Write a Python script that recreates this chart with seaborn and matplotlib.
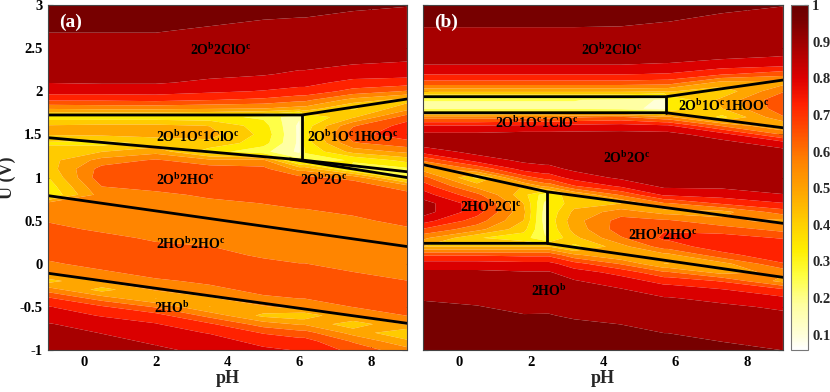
import numpy as np
import matplotlib
matplotlib.use("Agg")
import matplotlib.pyplot as plt
import seaborn as sns
from matplotlib.colors import LinearSegmentedColormap, Normalize
from matplotlib.cm import ScalarMappable
from matplotlib.ticker import FuncFormatter

# ---------------- data ----------------
# potential rows (V), top to bottom
U_rows = [3.0, 2.9, 2.8, 2.7, 2.6, 2.5, 2.4, 2.3, 2.2, 2.1, 2.0, 1.9, 1.8, 1.7,
          1.6, 1.5, 1.4, 1.3, 1.2, 1.1, 1.0, 0.9, 0.8, 0.7, 0.6, 0.5, 0.4, 0.3,
          0.2, 0.1, 0.0, -0.1, -0.2, -0.3, -0.4, -0.5, -0.6, -0.7, -0.8, -0.9, -1.0]

# panel (a): pH columns and values read per column (U from 3 to -1)
pH_a = [-1, 0.5, 2, 3.5, 5, 6, 6.15, 7.5, 9]
val_a = [
    [0.97,0.97,0.96,0.93,0.89,0.88,0.88,0.88,0.87,0.845,0.80,0.70,0.54,0.33,
     0.46,0.46,0.36,0.41,0.42,0.41,0.37,0.33,0.30,0.56,
     0.57,0.60,0.64,0.66,0.66,0.64,0.59,0.55,0.42,0.57,0.70,0.77,0.80,0.85,0.88,0.89,0.90],
    [0.97,0.97,0.96,0.93,0.89,0.88,0.88,0.88,0.87,0.85,0.80,0.70,0.55,0.33,
     0.47,0.47,0.34,0.45,0.56,0.64,0.66,0.61,0.57,0.55,
     0.56,0.57,0.59,0.64,0.66,0.66,0.65,0.59,0.54,0.42,0.57,0.70,0.76,0.80,0.84,0.87,0.88],
    [0.97,0.97,0.96,0.93,0.89,0.88,0.88,0.88,0.87,0.85,0.80,0.71,0.55,0.33,
     0.47,0.48,0.40,0.50,0.62,0.66,0.66,0.65,0.58,0.57,
     0.55,0.56,0.57,0.59,0.63,0.66,0.66,0.65,0.59,0.54,0.45,0.60,0.72,0.77,0.80,0.83,0.86],
    [0.97,0.96,0.94,0.90,0.88,0.88,0.88,0.88,0.86,0.83,0.78,0.69,0.54,0.32,
     0.45,0.48,0.43,0.33,0.55,0.65,0.66,0.66,0.63,0.58,
     0.57,0.55,0.56,0.57,0.61,0.65,0.66,0.66,0.63,0.58,0.52,0.45,0.58,0.70,0.76,0.80,0.82],
    [0.97,0.95,0.91,0.88,0.88,0.88,0.88,0.88,0.85,0.81,0.76,0.67,0.53,0.28,
     0.33,0.35,0.33,0.24,0.55,0.63,0.66,0.66,0.66,0.61,
     0.58,0.56,0.55,0.56,0.57,0.59,0.64,0.66,0.66,0.64,0.59,0.52,0.43,0.57,0.68,0.74,0.78],
    [0.96,0.94,0.90,0.88,0.88,0.88,0.88,0.86,0.83,0.79,0.74,0.63,0.50,0.15,
     0.12,0.12,0.12,0.12,0.25,0.50,0.63,0.66,0.66,0.64,
     0.59,0.57,0.55,0.56,0.56,0.58,0.61,0.65,0.66,0.65,0.61,0.56,0.40,0.52,0.64,0.72,0.76],
    [0.96,0.94,0.90,0.88,0.88,0.88,0.88,0.86,0.83,0.79,0.74,0.63,0.50,0.30,
     0.33,0.35,0.33,0.30,0.27,0.50,0.63,0.66,0.66,0.64,
     0.59,0.57,0.55,0.56,0.56,0.58,0.61,0.65,0.66,0.65,0.61,0.56,0.40,0.52,0.64,0.72,0.76],
    [0.95,0.91,0.88,0.88,0.88,0.88,0.87,0.84,0.80,0.74,0.66,0.50,0.36,0.44,
     0.60,0.66,0.60,0.48,0.30,0.28,0.58,0.66,0.66,0.66,
     0.63,0.58,0.57,0.55,0.56,0.56,0.58,0.61,0.65,0.66,0.65,0.61,0.54,0.40,0.50,0.60,0.66],
    [0.93,0.89,0.88,0.88,0.88,0.88,0.86,0.83,0.79,0.73,0.60,0.42,0.50,0.65,
     0.72,0.73,0.66,0.55,0.40,0.28,0.30,0.56,0.64,0.66,
     0.66,0.65,0.59,0.57,0.55,0.56,0.56,0.58,0.61,0.65,0.66,0.65,0.61,0.54,0.38,0.47,0.56],
]

# panel (b)
pH_b = [-1, 0.5, 1.8, 2.4, 2.5, 3.2, 4.5, 5.7, 5.8, 7.3, 9]
val_b = [
    [0.97,0.97,0.95,0.90,0.88,0.88,0.88,0.84,0.77,0.66,0.47,0.22,0.20,0.57,
     0.77,0.86,0.88,0.80,0.62,0.49,0.64,0.73,0.80,0.88,
     0.88,0.80,0.68,0.55,0.45,0.68,0.80,0.86,0.88,0.88,0.91,0.95,0.97,0.97,0.97,0.97,0.97],
    [0.97,0.97,0.95,0.90,0.88,0.88,0.88,0.84,0.77,0.66,0.47,0.22,0.20,0.57,
     0.77,0.86,0.88,0.87,0.80,0.62,0.35,0.50,0.63,0.72,
     0.72,0.65,0.56,0.38,0.45,0.68,0.80,0.86,0.88,0.88,0.88,0.93,0.97,0.97,0.97,0.97,0.97],
    [0.97,0.97,0.95,0.90,0.88,0.88,0.88,0.84,0.77,0.66,0.47,0.22,0.20,0.58,
     0.78,0.87,0.88,0.88,0.86,0.80,0.65,0.45,0.40,0.45,
     0.47,0.45,0.40,0.33,0.45,0.67,0.79,0.85,0.88,0.88,0.88,0.88,0.93,0.97,0.97,0.97,0.97],
    [0.97,0.97,0.95,0.90,0.88,0.88,0.88,0.84,0.77,0.66,0.47,0.22,0.20,0.58,
     0.78,0.87,0.88,0.88,0.87,0.82,0.72,0.55,0.25,0.20,
     0.18,0.18,0.20,0.22,0.45,0.67,0.79,0.85,0.88,0.88,0.88,0.89,0.93,0.97,0.97,0.97,0.97],
    [0.97,0.97,0.95,0.90,0.88,0.88,0.88,0.84,0.77,0.66,0.47,0.22,0.20,0.58,
     0.78,0.87,0.88,0.88,0.87,0.82,0.72,0.55,0.30,0.30,
     0.32,0.33,0.32,0.30,0.45,0.67,0.79,0.85,0.88,0.88,0.88,0.89,0.93,0.97,0.97,0.97,0.97],
    [0.97,0.97,0.95,0.90,0.88,0.88,0.88,0.84,0.77,0.66,0.47,0.22,0.20,0.60,
     0.79,0.87,0.88,0.88,0.88,0.86,0.80,0.68,0.45,0.42,
     0.47,0.50,0.48,0.43,0.35,0.55,0.72,0.80,0.85,0.88,0.88,0.88,0.90,0.95,0.97,0.97,0.97],
    [0.97,0.97,0.95,0.89,0.88,0.88,0.88,0.84,0.77,0.66,0.47,0.20,0.18,0.62,
     0.80,0.87,0.88,0.88,0.88,0.88,0.86,0.78,0.62,0.45,
     0.57,0.64,0.65,0.60,0.50,0.45,0.60,0.74,0.80,0.85,0.88,0.88,0.88,0.92,0.96,0.97,0.97],
    [0.97,0.96,0.92,0.88,0.88,0.88,0.88,0.83,0.76,0.65,0.46,0.12,0.10,0.55,
     0.78,0.87,0.88,0.88,0.88,0.88,0.88,0.86,0.78,0.60,
     0.50,0.62,0.68,0.70,0.65,0.50,0.45,0.62,0.74,0.80,0.85,0.88,0.88,0.88,0.92,0.96,0.97],
    [0.97,0.96,0.92,0.88,0.88,0.88,0.88,0.83,0.76,0.65,0.46,0.30,0.30,0.55,
     0.78,0.87,0.88,0.88,0.88,0.88,0.88,0.86,0.78,0.60,
     0.50,0.62,0.68,0.70,0.65,0.50,0.45,0.62,0.74,0.80,0.85,0.88,0.88,0.88,0.92,0.96,0.97],
    [0.96,0.92,0.88,0.88,0.88,0.88,0.86,0.80,0.70,0.50,0.40,0.47,0.45,0.35,
     0.60,0.80,0.87,0.88,0.88,0.88,0.88,0.86,0.80,0.70,
     0.50,0.55,0.65,0.72,0.73,0.66,0.50,0.50,0.68,0.77,0.82,0.86,0.88,0.88,0.88,0.92,0.96],
    [0.93,0.88,0.88,0.88,0.88,0.88,0.84,0.78,0.64,0.50,0.60,0.67,0.66,0.60,
     0.45,0.60,0.80,0.87,0.88,0.88,0.88,0.88,0.84,0.76,
     0.65,0.50,0.58,0.68,0.74,0.74,0.68,0.55,0.50,0.70,0.78,0.83,0.86,0.88,0.88,0.88,0.92],
]

# phase boundaries (pH list, U list)
bounds_a = [
    ([-1, 6.07, 9], [1.725, 1.725, 1.91]),
    ([-1, 6.07, 9], [1.462, 1.203, 1.067]),
    ([5.74, 9], [1.215, 1.0]),
    ([6.07, 6.07], [1.725, 1.203]),
    ([-1, 9], [0.79, 0.20]),
    ([-1, 9], [-0.11, -0.69]),
]
bounds_b = [
    ([-1, 5.75, 9], [1.937, 1.937, 2.13]),
    ([-1, 5.75, 9], [1.751, 1.751, 1.577]),
    ([5.75, 5.75], [1.751, 1.937]),
    ([-1, 2.44, 9], [1.15, 0.835, 0.469]),
    ([2.44, 2.44], [0.835, 0.237]),
    ([-1, 2.44, 9], [0.237, 0.237, -0.157]),
]

# label text, pH centre, U of baseline
labels_a = [
    ("2O$^b$2ClO$^c$", 3.82, 2.42),
    ("2O$^b$1O$^c$1ClO$^c$", 3.19, 1.415),
    ("2O$^b$1O$^c$1HOO$^c$", 7.48, 1.415),
    ("2O$^b$2HO$^c$", 2.82, 0.913),
    ("2O$^b$2O$^c$", 6.67, 0.913),
    ("2HO$^b$2HO$^c$", 2.96, 0.167),
    ("2HO$^b$", 2.45, -0.567),
]
labels_b = [
    ("2O$^b$2ClO$^c$", 4.25, 2.42),
    ("2O$^b$1O$^c$1HOO$^c$", 7.35, 1.775),
    ("2O$^b$1O$^c$1ClO$^c$", 2.17, 1.577),
    ("2O$^b$2O$^c$", 4.67, 1.172),
    ("2HO$^b$2Cl$^c$", 0.87, 0.604),
    ("2HO$^b$2HO$^c$", 5.65, 0.275),
    ("2HO$^b$", 2.5, -0.374),
]

cb_ticks = [0.1, 0.2, 0.3, 0.4, 0.5, 0.6, 0.7, 0.8, 0.9, 1.0]
y_ticks = [-1, -0.5, 0, 0.5, 1, 1.5, 2, 2.5, 3]
x_ticks = [0, 2, 4, 6, 8]

# ---------------- style ----------------
sns.set_theme(style="ticks")
plt.rcParams["font.family"] = ["Liberation Serif", "DejaVu Serif"]
plt.rcParams["font.weight"] = "bold"
plt.rcParams["axes.labelweight"] = "bold"
plt.rcParams["mathtext.fontset"] = "custom"
plt.rcParams["mathtext.rm"] = "Liberation Serif:bold"
plt.rcParams["mathtext.it"] = "Liberation Serif:bold"
plt.rcParams["mathtext.bf"] = "Liberation Serif:bold"

vmin, vmax = 0.058, 1.0
anchor_v = [0.058, 0.10, 0.18, 0.26, 0.33, 0.41, 0.49, 0.57, 0.65, 0.73, 0.80, 0.88, 0.96, 1.0]
anchor_c = ['#ffffff', '#ffffd8', '#ffffa0', '#ffff40', '#ffee00', '#ffcc00', '#ffa600',
            '#ff8400', '#ff5200', '#ff2000', '#dd0000', '#aa0000', '#780000', '#6a0000']
cmap = LinearSegmentedColormap.from_list(
    "hotr", [((v - vmin) / (vmax - vmin), c) for v, c in zip(anchor_v, anchor_c)])
norm = Normalize(vmin, vmax)
levels = np.linspace(0.06, 1.0, 13)

fig = plt.figure(figsize=(8.3, 3.92), dpi=100)
ax_a = fig.add_axes([0.0578, 0.1071, 0.4325, 0.8801])
ax_b = fig.add_axes([0.5096, 0.1071, 0.4337, 0.8801])
cax = fig.add_axes([0.953, 0.1071, 0.0205, 0.8801])

fmt = FuncFormatter(lambda v, p: "%g" % v)


def draw(ax, ph, vals, bounds, labels, tag, left):
    Z = np.array(vals).T
    ax.contourf(ph, U_rows, Z, levels=levels, cmap=cmap, norm=norm, antialiased=True)
    for xs, ys in bounds:
        sns.lineplot(x=xs, y=ys, ax=ax, color="black", linewidth=2.0,
                     sort=False, estimator=None, legend=False)
    for txt, x, y in labels:
        ax.text(x, y, txt, ha="center", va="baseline", fontsize=10,
                fontweight="bold", color="black")
    ax.text(0.03, 0.975, tag, transform=ax.transAxes, ha="left", va="top",
            fontsize=14, fontweight="bold", color="white")
    ax.set_xlim(-1, 9)
    ax.set_ylim(-1, 3)
    ax.set_xticks(x_ticks)
    ax.set_yticks(y_ticks)
    ax.xaxis.set_major_formatter(fmt)
    ax.yaxis.set_major_formatter(fmt)
    ax.tick_params(direction="in", top=True, right=True, length=3.5, width=0.8,
                   labelsize=10.5, pad=4, colors="#222222", labelcolor="black",
                   labelleft=left)
    for s in ax.spines.values():
        s.set_linewidth(0.8)
        s.set_color("#444444")
    ax.set_xlabel("pH", fontsize=13, fontweight="bold", labelpad=1)
    if left:
        ax.set_ylabel("U (V)", fontsize=13, fontweight="bold")
        ax.yaxis.set_label_coords(-0.088, 0.5)


draw(ax_a, pH_a, val_a, bounds_a, labels_a, "(a)", True)
draw(ax_b, pH_b, val_b, bounds_b, labels_b, "(b)", False)

cb = fig.colorbar(ScalarMappable(norm=norm, cmap=cmap), cax=cax)
cb.set_ticks(cb_ticks)
cb.ax.yaxis.set_major_formatter(fmt)
cb.ax.tick_params(direction="in", length=3, width=0.8, labelsize=10.5, pad=3)
cb.outline.set_linewidth(0.8)
cb.outline.set_edgecolor("#777777")

fig.savefig("out.png", dpi=100)
